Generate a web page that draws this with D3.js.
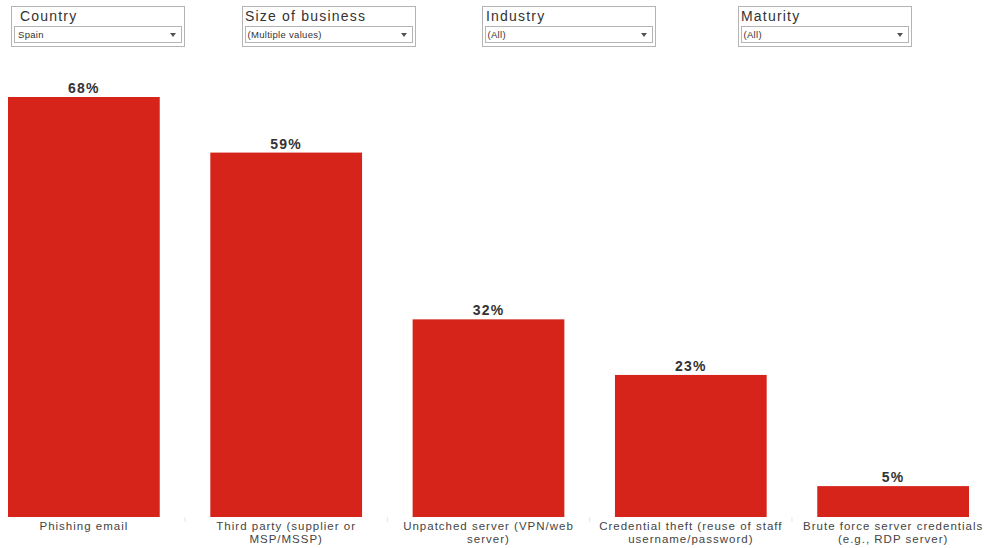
<!DOCTYPE html>
<html>
<head>
<meta charset="utf-8">
<script src="https://cdn.jsdelivr.net/npm/d3@7"></script>
<style>
  body { margin: 0; background: #fff; }
  svg { display: block; font-family: "Liberation Sans", Arial, sans-serif; }
</style>
</head>
<body>
<svg width="984" height="548"></svg>
<script>
// chart data
const categories = [
  ["Phishing email"],
  ["Third party (supplier or", "MSP/MSSP)"],
  ["Unpatched server (VPN/web", "server)"],
  ["Credential theft (reuse of staff", "username/password)"],
  ["Brute force server credentials", "(e.g., RDP server)"]
];
const values = [68, 59, 32, 23, 5];

// filter controls
const filterTitles = ["Country", "Size of business", "Industry", "Maturity"];
const filterValues = ["Spain", "(Multiple values)", "(All)", "(All)"];
const filterX = [11, 242, 482, 738];
const titleDx = [9, 3, 4, 3];

let width = 984, height = 548;
let svg = d3.select("svg");

let x = d3.scaleBand()
  .domain(d3.range(values.length))
  .range([8, 969])
  .paddingInner(0.25)
  .paddingOuter(0);

let y = d3.scaleLinear()
  .domain([0, 68])
  .range([517, 97]);

// filter boxes
let filters = svg.append("g")
  .selectAll("g")
  .data(filterTitles)
  .enter()
  .append("g")
  .attr("transform", (d, i) => "translate(" + filterX[i] + ",6)");

filters.append("rect")
  .attr("x", 0.5).attr("y", 0.5)
  .attr("width", 173).attr("height", 40)
  .attr("fill", "#fff")
  .attr("stroke", "#b4b4b4");

filters.append("text")
  .attr("x", (d, i) => titleDx[i]).attr("y", 15)
  .attr("font-size", 14)
  .attr("letter-spacing", 1.2)
  .attr("fill", "#333")
  .text(d => d);

filters.append("rect")
  .attr("x", 3.5).attr("y", 20.5)
  .attr("width", 167).attr("height", 16)
  .attr("fill", "#fff")
  .attr("stroke", "#b4b4b4");

filters.append("text")
  .attr("x", (d, i) => i == 0 ? 7 : 5.5).attr("y", 32)
  .attr("font-size", 9.5)
  .attr("letter-spacing", 0.3)
  .attr("fill", "#333")
  .text((d, i) => filterValues[i]);

filters.append("path")
  .attr("d", "M159,27 L165,27 L162,31 Z")
  .attr("fill", "#555");

// bars
svg.append("g")
  .selectAll("rect")
  .data(values)
  .enter()
  .append("rect")
  .attr("x", (d, i) => x(i))
  .attr("y", d => y(d))
  .attr("width", x.bandwidth())
  .attr("height", d => y(0) - y(d))
  .attr("fill", "#d6241b");

// value labels
svg.append("g")
  .selectAll("text")
  .data(values)
  .enter()
  .append("text")
  .attr("x", (d, i) => x(i) + x.bandwidth() / 2)
  .attr("y", d => y(d) - 4)
  .attr("text-anchor", "middle")
  .attr("font-size", 14)
  .attr("font-weight", "bold")
  .attr("letter-spacing", 1.2)
  .attr("fill", "#333")
  .text(d => d + "%");

// faint separators
svg.append("g")
  .selectAll("line")
  .data(d3.range(1, values.length))
  .enter()
  .append("line")
  .attr("x1", i => x(i) - x.step() * x.paddingInner() / 2)
  .attr("x2", i => x(i) - x.step() * x.paddingInner() / 2)
  .attr("y1", 517).attr("y2", 522)
  .attr("stroke", "#e6e6e6");

// category labels
let labels = svg.append("g")
  .selectAll("text")
  .data(categories)
  .enter()
  .append("text")
  .attr("text-anchor", "middle")
  .attr("font-size", 11.5)
  .attr("letter-spacing", 1)
  .attr("fill", "#444")
  .attr("transform", (d, i) => "translate(" + (x(i) + x.bandwidth() / 2) + ",530)");

labels.selectAll("tspan")
  .data(d => d)
  .enter()
  .append("tspan")
  .attr("x", 0)
  .attr("dy", (d, j) => j == 0 ? 0 : 13)
  .text(d => d);
</script>
</body>
</html>
